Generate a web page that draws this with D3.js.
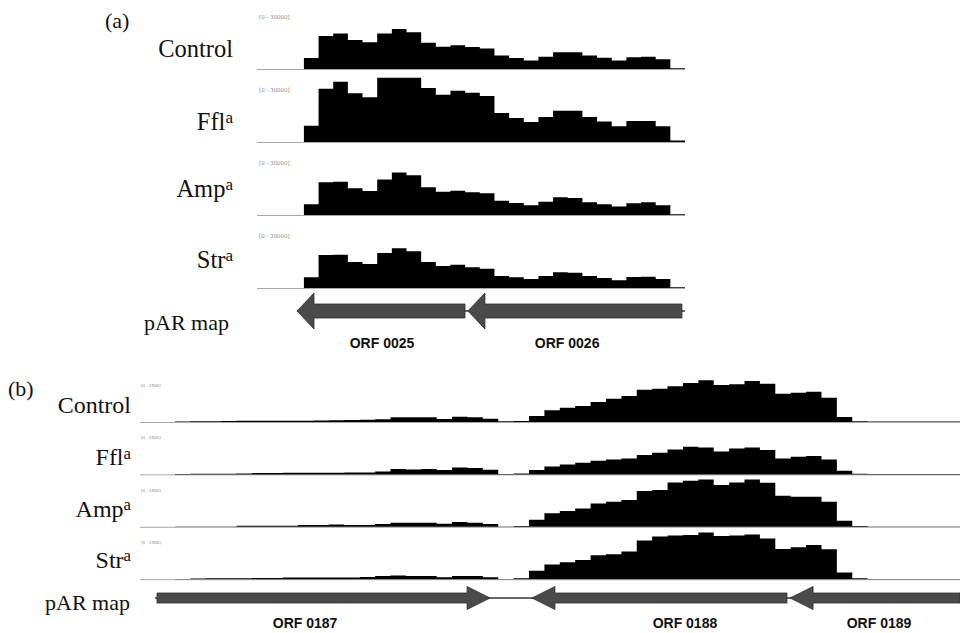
<!DOCTYPE html>
<html><head><meta charset="utf-8">
<script src="https://cdn.jsdelivr.net/npm/d3@7"></script>
<style>
html,body{margin:0;padding:0;background:#fff;}
svg{display:block;}
</style></head>
<body>
<svg id="chart" width="960" height="633"></svg>
<script>
// ---------- DATA ----------
const samples = ["Control", "Ffl", "Amp", "Str"];
const sampleSup = ["", "a", "a", "a"];

// Panel (a): coverage per bin, range 0 - 30000
const rangeA = [0, 30000];
const ctrlA = [4900,14600,15700,12800,11800,15700,17600,16200,11600,9800,10500,9700,9000,6000,4900,3800,5400,7400,7400,6000,5000,3800,5200,5400,4300,300];
const fflA  = [7200,23500,26600,21500,19700,28400,28400,28400,23800,20900,22600,21700,20300,12800,10600,8800,11000,13800,13800,11000,9000,6900,9300,9300,6900,700];
const ampA  = [4700,14400,14700,11800,10600,15700,18700,17500,12200,10300,10700,10000,9600,6300,5300,4300,5900,7800,7500,5600,4700,3700,5200,5600,4300,300];
const strA  = [4700,14600,14700,11500,10600,15400,17500,16200,11500,9700,10300,9100,8500,5300,4700,4000,5300,6900,6700,5300,4400,3400,4900,5000,4000,300];

// Panel (b): coverage per bin, range 0 - 2500
const rangeB = [0, 2500];
const ctrlB = [25,40,40,50,65,65,65,65,65,75,85,100,115,135,235,235,235,150,265,235,165,35,50,300,590,
               715,800,1000,1165,1300,1615,1665,1785,1950,2085,1850,1885,2050,1915,1415,1465,1515,1215,250,40,25,25,25,25,25,25];
const fflB  = [15,35,35,35,50,65,65,85,85,85,85,100,100,150,265,250,265,215,350,315,235,15,50,215,390,
               500,585,685,750,800,965,1085,1250,1385,1350,1150,1300,1350,1215,800,885,915,750,185,35,15,15,15,15,15,15];
const ampB  = [15,15,15,15,50,50,50,50,85,85,115,85,85,135,200,200,200,150,235,200,135,15,35,350,680,
               785,915,1165,1250,1335,1785,1835,2215,2300,2365,2085,2215,2365,2200,1550,1500,1500,1250,300,35,15,15,15,15,15,15];
const strB  = [15,35,50,50,50,65,65,85,85,85,85,85,115,165,185,165,165,100,165,165,100,15,50,425,735,
               850,965,1200,1250,1385,1935,2135,2185,2215,2335,2165,2185,2235,2035,1515,1600,1715,1500,335,50,15,15,15,15,15,15];

// Genes (coordinates in bin units of each panel)
const genesA = ["ORF 0025", "ORF 0026"];
const geneStartA = [-0.47, 11.19];
const geneEndA = [10.99, 25.79];
const geneStrandA = [-1, -1];
const geneLabelPosA = [5.33, 17.96];

const genesB = ["ORF 0187", "ORF 0188", "ORF 0189"];
const geneStartB = [-1.17, 23.19, 39.96];
const geneEndB = [20.47, 39.76, 51];
const geneStrandB = [1, -1, -1];
const geneLabelPosB = [8.45, 33.13, 45.74];

// ---------- DRAWING ----------
const svg = d3.select("#chart");
const serif = "'Liberation Serif','Times New Roman',serif";
const sans = "'Liberation Sans',Arial,sans-serif";

function drawPanel(cfg) {
  const g = svg.append("g");
  const x = d3.scaleLinear().domain(cfg.domain).range(cfg.range);
  cfg.series.forEach((vals, i) => {
    const base = cfg.base0 + i * cfg.step;
    const y = d3.scaleLinear().domain(cfg.yDomain).range([base, base - cfg.trackH]);
    g.append("line").attr("x1", cfg.lineX0).attr("x2", cfg.range[1])
      .attr("y1", base + 0.5).attr("y2", base + 0.5)
      .attr("stroke", "#a8a8a8").attr("stroke-width", 1);
    g.append("text").attr("x", cfg.rangeLabelX).attr("y", base - cfg.rangeLabelDy)
      .attr("font-family", "'DejaVu Sans',sans-serif").attr("font-size", cfg.rangeFont)
      .attr("fill", "#8a8a8a")
      .text("[" + cfg.yDomain[0] + " - " + cfg.yDomain[1] + "]");
    const pts = vals.map((v, k) => [k, v]);
    pts.push([vals.length, vals[vals.length - 1]]);
    const area = d3.area().curve(d3.curveStepAfter)
      .x(d => x(d[0])).y0(y(0)).y1(d => y(d[1]));
    g.append("path").datum(pts).attr("d", area).attr("fill", "#000");
    const t = g.append("text").attr("x", cfg.labelX).attr("y", base - cfg.labelDy[i])
      .attr("text-anchor", "end").attr("font-family", serif).attr("font-size", cfg.labelFont)
      .attr("fill", "#111");
    t.append("tspan").text(samples[i]);
    if (sampleSup[i]) t.append("tspan").attr("font-size", cfg.labelFont * 0.7)
      .attr("dy", -cfg.labelFont * 0.28).text(sampleSup[i]);
  });
  g.append("text").attr("x", cfg.labelX - cfg.parShift).attr("y", cfg.parY)
    .attr("text-anchor", "end").attr("font-family", serif).attr("font-size", cfg.parFont)
    .attr("fill", "#111").text("pAR map");
  g.append("text").attr("x", cfg.tagX).attr("y", cfg.tagY)
    .attr("font-family", serif).attr("font-size", cfg.tagFont).attr("fill", "#111").text(cfg.tag);

  const cy = cfg.geneY;
  g.append("line").attr("x1", x(cfg.backbone[0])).attr("x2", x(cfg.backbone[1]))
    .attr("y1", cy).attr("y2", cy).attr("stroke", "#333").attr("stroke-width", 1.3);
  cfg.genes.forEach((name, j) => {
    const a = x(cfg.gStart[j]), b = x(cfg.gEnd[j]);
    const bh = cfg.bodyH / 2, hh = cfg.headH / 2, hl = cfg.headL;
    let p;
    if (cfg.gStrand[j] < 0) {
      p = `M${a},${cy} L${a + hl},${cy - hh} L${a + hl},${cy - bh} L${b},${cy - bh} L${b},${cy + bh} L${a + hl},${cy + bh} L${a + hl},${cy + hh} Z`;
    } else {
      p = `M${b},${cy} L${b - hl},${cy - hh} L${b - hl},${cy - bh} L${a},${cy - bh} L${a},${cy + bh} L${b - hl},${cy + bh} L${b - hl},${cy + hh} Z`;
    }
    g.append("path").attr("d", p).attr("fill", "#4a4a4a").attr("stroke", "#2e2e2e").attr("stroke-width", 0.8);
    g.append("text").attr("x", x(cfg.gLabel[j])).attr("y", cfg.geneLabelY)
      .attr("text-anchor", "middle").attr("font-family", sans).attr("font-weight", "bold")
      .attr("font-size", 14).attr("fill", "#111").text(name);
  });
}

drawPanel({
  series: [ctrlA, fflA, ampA, strA], yDomain: rangeA,
  domain: [-3.2, 26], range: [257, 685], lineX0: 257,
  base0: 69, step: 73, trackH: 68,
  rangeLabelX: 259, rangeLabelDy: 50, rangeFont: 5.5,
  labelX: 233, labelDy: [12, 12, 18, 20], labelFont: 24.5,
  parShift: 4, parY: 330, parFont: 22,
  tag: "(a)", tagX: 105, tagY: 28, tagFont: 22,
  geneY: 311, bodyH: 14, headH: 36, headL: 17, backbone: [-0.47, 26],
  genes: genesA, gStart: geneStartA, gEnd: geneEndA, gStrand: geneStrandA, gLabel: geneLabelPosA,
  geneLabelY: 348
});

drawPanel({
  series: [ctrlB, fflB, ampB, strB], yDomain: rangeB,
  domain: [0, 51], range: [175, 960], lineX0: 140,
  base0: 422, step: 52.4, trackH: 50,
  rangeLabelX: 141, rangeLabelDy: 35, rangeFont: 4,
  labelX: 131, labelDy: [9, 9, 10, 11], labelFont: 24,
  parShift: 1, parY: 610, parFont: 22,
  tag: "(b)", tagX: 8, tagY: 396, tagFont: 22,
  geneY: 598, bodyH: 10, headH: 23, headL: 23, backbone: [-1.3, 51],
  genes: genesB, gStart: geneStartB, gEnd: geneEndB, gStrand: geneStrandB, gLabel: geneLabelPosB,
  geneLabelY: 628
});
</script>
</body></html>
